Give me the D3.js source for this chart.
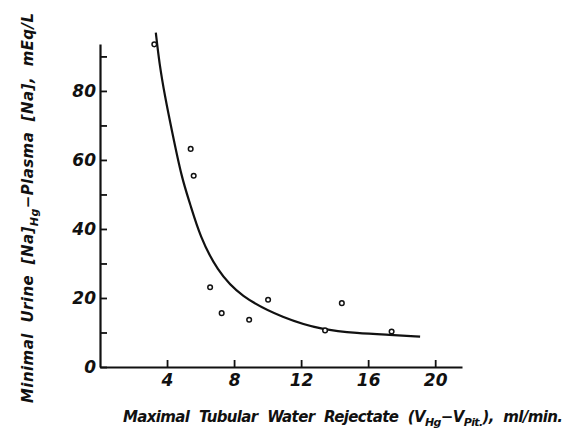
<!DOCTYPE html>
<html lang="en">
<head>
<meta charset="UTF-8">
<title>Na rejectate</title>
<script src="https://cdn.jsdelivr.net/npm/d3@7"></script>
<style>
  body { margin: 0; background: #fff; }
  text { font-family: "DejaVu Sans", sans-serif; font-style: italic; font-weight: bold; fill: #111; }
</style>
</head>
<body>
<svg width="570" height="430" id="mainsvg"></svg>
<script>
// observed points (ml/min, mEq/L)
const rejectate = [3.24, 5.41, 5.59, 6.57, 7.26, 8.9, 10.03, 13.43, 14.43, 17.4];
const naDiff = [93.5, 63.2, 55.4, 23.1, 15.6, 13.7, 19.5, 10.6, 18.5, 10.3];

// hand-drawn fitted curve
const curveX = [3.33, 3.54, 3.88, 4.28, 4.88, 5.37, 5.97, 6.97, 8.36, 10.94, 13.33, 15.33, 17.31, 19.1];
const curveY = [96.9, 88.0, 78.3, 68.7, 54.7, 47.4, 37.8, 28.1, 20.4, 14.1, 10.7, 9.8, 9.3, 8.8];

const xTicks = [4, 8, 12, 16, 20];
const yTicks = [0, 10, 20, 30, 40, 50, 60, 70, 80, 90];
const yLabelled = [0, 20, 40, 60, 80];

const svg = d3.select('#mainsvg');

const x = d3.scaleLinear().domain([0, 21.6]).range([100, 462]);
const y = d3.scaleLinear().domain([0, 93.6]).range([367, 44]);

// x axis
const gx = svg.append('g')
    .attr('transform', `translate(0,${y(0)})`)
    .call(d3.axisBottom(x).tickValues(xTicks).tickSize(-7).tickSizeOuter(0).tickPadding(7));
// y axis
const gy = svg.append('g')
    .attr('transform', `translate(${x(0)},0)`)
    .call(d3.axisLeft(y).tickValues(yTicks).tickSize(-7).tickSizeOuter(0).tickPadding(4)
        .tickFormat(d => yLabelled.includes(d) ? d : ''));

[gx, gy].forEach(g => {
    g.select('.domain').attr('stroke', '#111').attr('stroke-width', 2.2);
    g.selectAll('.tick line').attr('stroke', '#111').attr('stroke-width', 1.8);
    g.selectAll('.tick text').attr('fill', '#111').attr('font-size', 17)
        .attr('font-family', null);
});
gx.selectAll('.tick text').attr('dy', '0.72em');

// curve
const pts = curveX.map((v, i) => [v, curveY[i]]);
svg.append('path')
    .datum(pts)
    .attr('fill', 'none')
    .attr('stroke', '#111')
    .attr('stroke-width', 2.2)
    .attr('d', d3.line().x(d => x(d[0])).y(d => y(d[1])).curve(d3.curveBasis));

// points
svg.selectAll('circle.pt').data(rejectate).enter()
    .append('circle')
    .attr('class', 'pt')
    .attr('cx', d => x(d))
    .attr('cy', (d, i) => y(naDiff[i]))
    .attr('r', 2.3)
    .attr('fill', '#fff')
    .attr('stroke', '#111')
    .attr('stroke-width', 1.5);

// y label
const yl = svg.append('text')
    .attr('transform', 'translate(33,208) rotate(-90)')
    .attr('text-anchor', 'middle')
    .attr('font-size', 15)
    .attr('word-spacing', 5)
    .attr('textLength', 390)
    .attr('lengthAdjust', 'spacing');
yl.append('tspan').text('Minimal Urine [Na]');
yl.append('tspan').attr('font-size', 11).attr('dy', 5).text('Hg');
yl.append('tspan').attr('dy', -5).text('\u2212Plasma [Na], mEq/L');

// x label
const xl = svg.append('text')
    .attr('x', 123)
    .attr('y', 422)
    .attr('font-size', 15)
    .attr('word-spacing', 5)
    .attr('textLength', 440)
    .attr('lengthAdjust', 'spacing');
xl.append('tspan').text('Maximal Tubular Water Rejectate (V');
xl.append('tspan').attr('font-size', 11).attr('dy', 4).text('Hg');
xl.append('tspan').attr('dy', -4).text('\u2212V');
xl.append('tspan').attr('font-size', 11).attr('dy', 4).text('Pit.');
xl.append('tspan').attr('dy', -4).text('), ml/min.');
</script>
</body>
</html>
